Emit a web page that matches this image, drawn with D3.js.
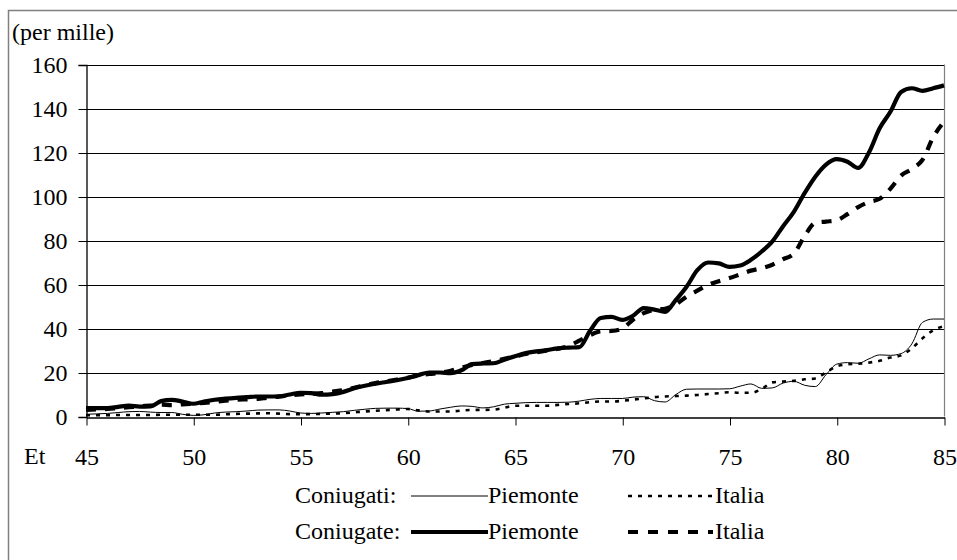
<!DOCTYPE html>
<html>
<head>
<meta charset="utf-8">
<script src="https://cdn.jsdelivr.net/npm/d3@7"></script>
<style>
  html, body { margin: 0; padding: 0; background: #fff; }
  svg { display: block; }
  text { font-family: "Liberation Serif", "Tinos", "Times New Roman", Times, "Noto Serif", "DejaVu Serif", "FreeSerif", serif; fill: #000; }
</style>
</head>
<body>
<svg id="chart" width="957" height="560"></svg>
<script>
// Age at half-year steps (45 .. 85)
const ages = d3.range(45, 85.01, 0.5);

// Rates per mille
const coniugatePiemonte = [
  3.8, 3.8, 3.8, 4.4, 4.9, 4.5, 4.6, 7.0, 7.6, 6.8,
  5.8, 6.8, 7.6, 8.1, 8.5, 8.8, 9.1, 9.1, 9.2, 10.0,
  10.8, 10.6, 9.9, 10.2, 11.2, 12.8, 14.0, 14.9, 15.7, 16.5,
  17.5, 18.8, 20.0, 20.0, 19.7, 21.0, 23.8, 24.1, 24.2, 25.8,
  27.4, 28.8, 29.6, 30.2, 31.0, 31.3, 31.5, 39.0, 44.8, 45.3,
  43.9, 45.8, 49.3, 48.6, 47.6, 53.0, 59.0, 66.5, 70.0, 69.6,
  68.0, 68.6, 71.2, 75.0, 79.6, 86.5, 93.0, 101.5, 109.0, 114.5,
  117.0, 115.8, 113.0, 120.0, 131.0, 138.5, 147.5, 149.2, 148.0, 149.2,
  150.5
];
const coniugateItalia = [
  3.0, 3.2, 3.4, 3.8, 4.2, 4.6, 5.0, 5.4, 5.2, 5.5,
  5.8, 6.2, 6.7, 7.2, 7.6, 7.8, 8.0, 8.6, 9.0, 9.6,
  10.0, 10.3, 10.6, 11.3, 12.0, 13.0, 14.2, 15.2, 16.0, 16.8,
  17.6, 18.6, 19.3, 19.8, 20.8, 22.2, 23.4, 24.3, 25.2, 26.2,
  27.3, 28.4, 29.2, 30.0, 30.8, 32.0, 34.5, 37.0, 38.7, 38.9,
  40.0, 44.0, 47.0, 48.5, 49.0, 51.0, 54.5, 57.2, 59.8, 61.5,
  62.9, 64.6, 66.3, 67.4, 69.0, 71.5, 74.0, 82.0, 88.0, 88.6,
  89.2, 92.0, 95.2, 97.5, 99.0, 103.5, 109.5, 112.5, 116.7, 127.0,
  134.0
];
const coniugatiPiemonte = [
  1.0, 1.2, 1.4, 1.8, 2.2, 2.3, 2.0, 1.8, 1.8, 1.0,
  0.5, 0.8, 1.6, 2.0, 2.2, 2.5, 2.9, 3.0, 3.0, 2.5,
  1.6, 1.4, 1.6, 1.9, 2.2, 2.8, 3.3, 3.7, 3.8, 3.8,
  3.6, 2.4, 2.5, 3.4, 4.2, 4.8, 4.6, 3.9, 4.4, 5.6,
  6.0, 6.3, 6.4, 6.4, 6.4, 6.5, 7.0, 7.8, 8.2, 8.2,
  8.2, 8.8, 9.0, 7.2, 6.6, 10.0, 12.4, 12.5, 12.5, 12.5,
  12.6, 13.8, 14.8, 12.8, 13.0, 15.2, 16.0, 14.2, 13.6, 19.0,
  23.8, 24.5, 24.2, 26.2, 28.0, 27.8, 28.6, 33.0, 42.8, 44.3,
  44.3
];
const coniugatiItalia = [
  0.6, 0.6, 0.6, 0.7, 0.7, 0.7, 0.7, 0.8, 0.8, 0.8,
  0.8, 0.8, 0.8, 1.0, 1.2, 1.3, 1.4, 1.5, 1.3, 1.1,
  1.1, 1.1, 1.2, 1.3, 1.5, 1.9, 2.3, 2.6, 2.9, 3.2,
  3.4, 2.8, 2.3, 2.3, 2.3, 2.7, 3.0, 3.0, 3.1, 4.0,
  4.9, 4.9, 4.9, 4.9, 5.3, 5.7, 6.0, 6.5, 6.8, 6.8,
  7.1, 7.7, 8.2, 8.8, 9.1, 9.3, 9.5, 9.8, 10.2, 10.6,
  11.0, 10.8, 10.8, 12.5, 15.5, 15.9, 16.2, 16.9, 17.3, 20.0,
  22.8, 23.7, 24.0, 24.5, 25.3, 26.8, 27.8, 31.0, 35.6, 39.2,
  41.0
];

const yTicks = [0, 20, 40, 60, 80, 100, 120, 140, 160];
const xTicks = [45, 50, 55, 60, 65, 70, 75, 80, 85];

const FONT = "'Liberation Serif', Tinos, 'Times New Roman', Times, 'Noto Serif', 'DejaVu Serif', FreeSerif, serif";
const FS = "24px";

const svg = d3.select("#chart");

// Outer frame
svg.append("rect")
  .attr("x", 8.5).attr("y", 10.5)
  .attr("width", 980).attr("height", 580)
  .attr("fill", "none").attr("stroke", "#808080").attr("stroke-width", 1.5);

const x = d3.scaleLinear().domain([45, 85]).range([86, 944]);
const y = d3.scaleLinear().domain([0, 160]).range([416.5, 64.5]);

// Horizontal gridlines
svg.append("g")
  .selectAll("line")
  .data(yTicks.filter(v => v > 0))
  .join("line")
  .attr("x1", x(45)).attr("x2", x(85))
  .attr("y1", d => Math.round(y(d)) + 0.5).attr("y2", d => Math.round(y(d)) + 0.5)
  .attr("stroke", "#000").attr("stroke-width", 1);

// Right edge of plot area
svg.append("line")
  .attr("x1", x(85) + 0.5).attr("x2", x(85) + 0.5)
  .attr("y1", y(160)).attr("y2", y(0))
  .attr("stroke", "#808080").attr("stroke-width", 1.2);

// Y axis
const yAxis = svg.append("g")
  .attr("transform", `translate(${x(45) + 0.5},0.5)`)
  .call(d3.axisLeft(y).tickValues(yTicks).tickSize(8).tickPadding(11).tickFormat(d3.format("d")));
yAxis.attr("font-family", FONT).attr("font-size", FS);
yAxis.select(".domain").attr("stroke", "#000").attr("stroke-width", 1.3);
yAxis.selectAll(".tick line").attr("stroke", "#000");
yAxis.selectAll(".tick text").attr("fill", "#000");

// X axis
const xAxis = svg.append("g")
  .attr("transform", `translate(0.5,${Math.round(y(0)) + 0.5})`)
  .call(d3.axisBottom(x).tickValues(xTicks).tickSize(8).tickPadding(22).tickSizeOuter(0).tickFormat(d3.format("d")));
xAxis.attr("font-family", FONT).attr("font-size", FS);
xAxis.select(".domain").attr("stroke", "#000").attr("stroke-width", 1.3);
xAxis.selectAll(".tick line").attr("stroke", "#000");
xAxis.selectAll(".tick text").attr("fill", "#000");

// Axis captions
svg.append("text").attr("x", 12).attr("y", 40)
  .style("font-size", FS).text("(per mille)");
svg.append("text").attr("x", 24).attr("y", 464)
  .style("font-size", FS).text("Et");

// Series
const series = [
  { values: coniugatiPiemonte, width: 1, dash: null },
  { values: coniugatiItalia, width: 2.6, dash: "4,6" },
  { values: coniugateItalia, width: 4.2, dash: "10,9" },
  { values: coniugatePiemonte, width: 4.2, dash: null }
];

const line = d3.line()
  .x((d, i) => x(ages[i]))
  .y(d => y(d))
  .curve(d3.curveMonotoneX);

svg.append("g")
  .selectAll("path")
  .data(series)
  .join("path")
  .attr("d", s => line(s.values))
  .attr("fill", "none")
  .attr("stroke", "#000")
  .attr("stroke-width", s => s.width)
  .attr("stroke-dasharray", s => s.dash)
  .attr("stroke-linejoin", "round");

// Legend
const legendRows = [
  { label: "Coniugati:", y: 496, solidW: 1, dotW: 2.6, dash: "4,6" },
  { label: "Coniugate:", y: 532, solidW: 4.2, dotW: 4.2, dash: "10,10" }
];
const lg = svg.append("g");
legendRows.forEach(r => {
  lg.append("text").attr("x", 295).attr("y", r.y + 7)
    .style("font-size", FS).text(r.label);
  lg.append("line").attr("x1", 411).attr("x2", 488)
    .attr("y1", r.y).attr("y2", r.y)
    .attr("stroke", "#000").attr("stroke-width", r.solidW);
  lg.append("text").attr("x", 488).attr("y", r.y + 7)
    .style("font-size", FS).text("Piemonte");
  lg.append("line").attr("x1", 628).attr("x2", 713)
    .attr("y1", r.y).attr("y2", r.y)
    .attr("stroke", "#000").attr("stroke-width", r.dotW)
    .attr("stroke-dasharray", r.dash);
  lg.append("text").attr("x", 715).attr("y", r.y + 7)
    .style("font-size", FS).text("Italia");
});
</script>
</body>
</html>
